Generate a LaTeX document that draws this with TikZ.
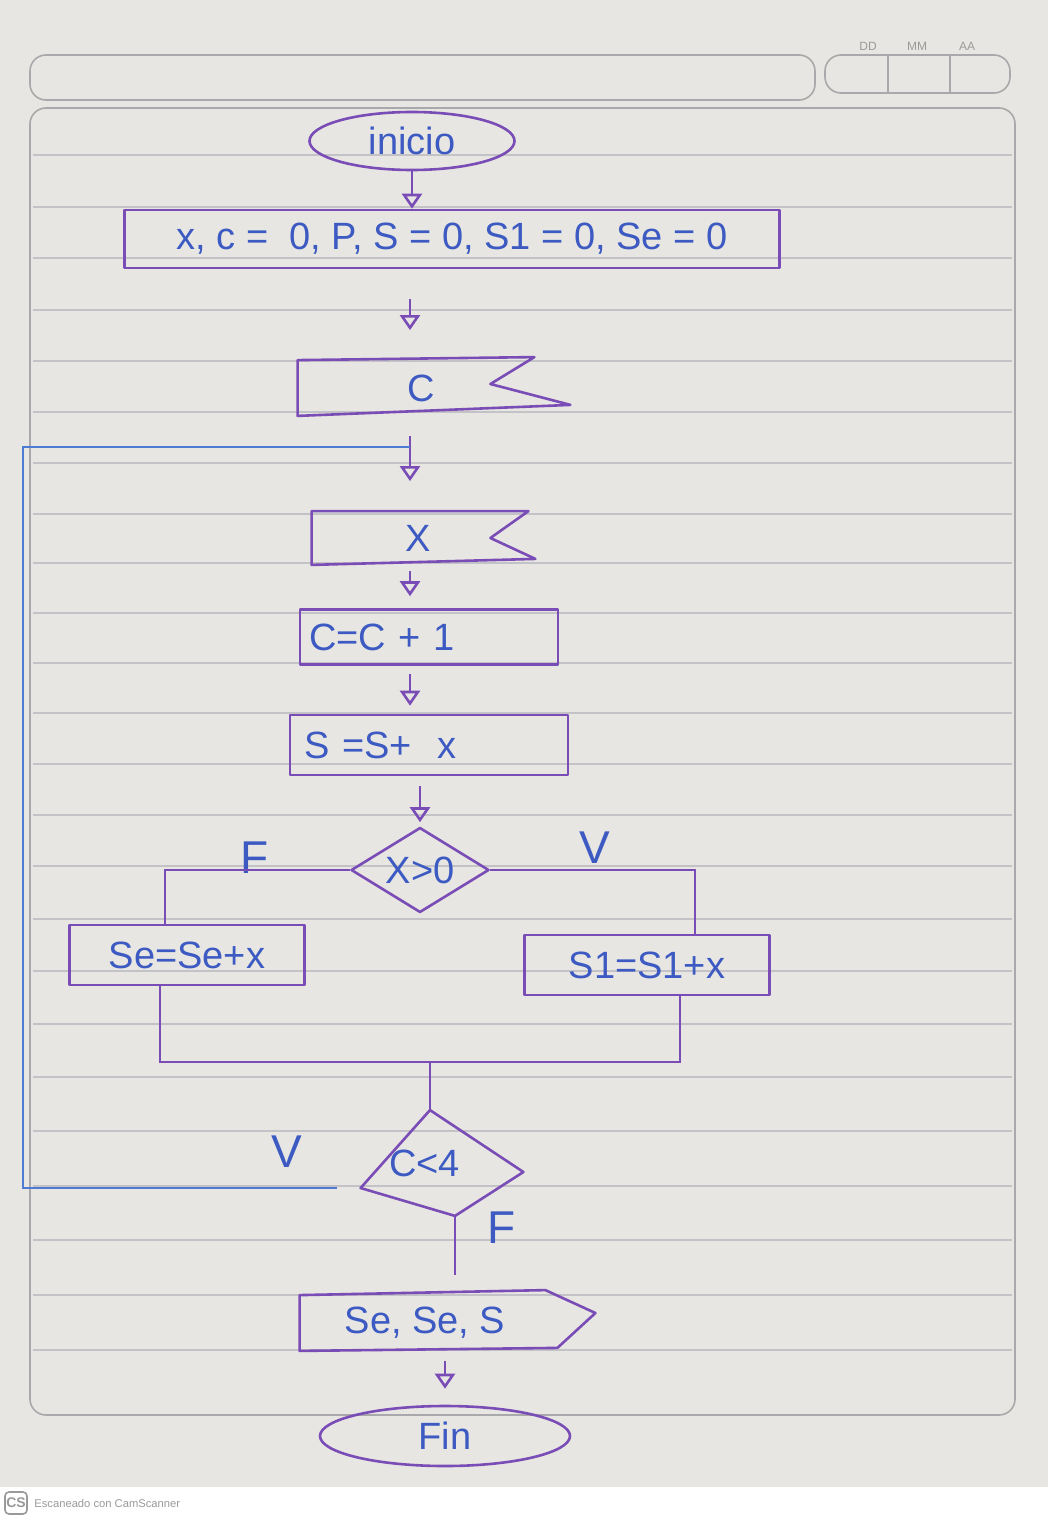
\documentclass[tikz,border=0pt]{standalone}
\usepackage{fontspec}
\setmainfont{Liberation Sans}
\usetikzlibrary{shapes.geometric,arrows.meta,calc}
\definecolor{ink}{HTML}{7A4DB6}
\definecolor{pen}{HTML}{3C5AC2}
\definecolor{loopblue}{HTML}{4D7DD2}
\definecolor{paper}{HTML}{E7E6E3}
\definecolor{ruling}{HTML}{C3C3C7}
\definecolor{frame}{HTML}{A9A8AA}
\definecolor{footgray}{HTML}{9A9A9A}
\begin{document}
\begin{tikzpicture}[x=0.5pt,y=-0.5pt,
  shp/.style={draw=ink,line width=1.3pt,line join=round},
  lbl/.style={text=pen,font=\fontsize{19}{22}\selectfont},
  biglbl/.style={text=pen,font=\fontsize{23}{26}\selectfont},
  procbox/.style={shp,lbl,rectangle,inner sep=0pt},
  ghost/.style={lbl,rectangle,inner sep=0pt},
  term/.style={shp,lbl,ellipse,inner sep=0pt},
  decis/.style={shp,lbl,diamond,inner sep=0pt,aspect=1.6},
  conn/.style={draw=ink,line width=1.3pt},
  arr/.style={conn,-{Triangle[open,length=7.5pt,width=10pt]}},
  loopline/.style={draw=loopblue,line width=1.1pt},
  paperframe/.style={draw=frame,line width=0.8pt,rounded corners=8pt},
  tinytxt/.style={text=footgray,font=\fontsize{6}{7}\selectfont,inner sep=0pt},
]
\useasboundingbox (0,0) rectangle (1048,1520);
% paper
\fill[paper] (0,0) rectangle (1048,1487);
\fill[white] (0,1487) rectangle (1048,1520);
\foreach \yy in {155,207,258,310,361,412,463,514,563,613,663,713,764,815,866,919,971,1024,1077,1131,1186,1240,1295,1350}
  \draw[ruling,line width=0.6pt] (33,\yy) -- (1012,\yy);
\draw[paperframe] (30,108) rectangle (1015,1415);
\draw[paperframe] (30,55) rectangle (815,100);
\draw[paperframe] (825,55) rectangle (1010,93);
\draw[frame,line width=0.8pt] (888,55) -- (888,93);
\draw[frame,line width=0.8pt] (950,55) -- (950,93);
\node[tinytxt] (dd) at (868,46) {DD};
\node[tinytxt] (mm) at (917,46) {MM};
\node[tinytxt] (aa) at (967,46) {AA};
% footer
\node[draw=footgray,rounded corners=2pt,line width=0.8pt,minimum width=11pt,minimum height=11pt,inner sep=0pt,text=footgray,font=\fontsize{7}{8}\selectfont\bfseries] (cslogo) at (16,1503) {CS};
\node[tinytxt,anchor=west,font=\fontsize{5.6}{7}\selectfont] (camsc) at (34,1503) {Escaneado con CamScanner};

% flowchart nodes
\node[term,minimum width=102.5pt,minimum height=29pt] (inicio) at (412,141) {inicio};
\node[procbox,minimum width=327.5pt,minimum height=29pt] (init) at (452,239) {x, c =\ \ 0, P, S = 0, S1 = 0, Se = 0};
\node[ghost,minimum width=123pt,minimum height=27.5pt] (cin) at (421,388) {C};
\node[ghost,minimum width=106pt,minimum height=26.5pt] (xin) at (418,538) {X};
\node[procbox,minimum width=129pt,minimum height=27.5pt,text width=120pt,align=left] (cc) at (429,637) {C=C + 1};
\node[procbox,minimum width=139pt,minimum height=30pt,text width=125pt,align=left] (ss) at (429,745) {S =S+\ \ x};
\node[decis,minimum width=69pt,minimum height=42.5pt] (d1) at (420,870) {X>0};
\node[procbox,minimum width=117.5pt,minimum height=30pt] (se) at (187,955) {Se=Se+x};
\node[procbox,minimum width=122.5pt,minimum height=30pt] (s1) at (647,965) {S1=S1+x};
\node[ghost,minimum width=81pt,minimum height=52.5pt,text width=52pt,align=left] (d2) at (441,1163) {C<4};
\node[ghost,minimum width=125pt,minimum height=27.5pt] (out) at (425,1323) {Se, Se, S};
\node[term,minimum width=125pt,minimum height=30pt] (fin) at (445,1436) {Fin};
% branch labels
\node[biglbl] (lf1) at (255,858) {F};
\node[biglbl] (lv1) at (595,848) {V};
\node[biglbl] (lv2) at (287,1152) {V};
\node[biglbl] (lf2) at (502,1228) {F};

% outlines of non-rectangular shapes
\draw[shp] (cin.north west) -- ($(cin.north east)+(-10,-3)$) -- ($(cin.east)+(-54,-4)$) -- ($(cin.south east)+(26,-11)$) -- (cin.south west) -- cycle;
\draw[shp] (xin.north west) -- ($(xin.north east)+(4,0)$) -- ($(xin.east)+(-34,0)$) -- ($(xin.south east)+(11,-6)$) -- (xin.south west) -- cycle;
\draw[shp] (out.north west) -- ($(out.north east)+(-5,-5)$) -- ($(out.east)+(45,-10)$) -- ($(out.south east)+(7,-3)$) -- (out.south west) -- cycle;
\draw[shp] ($(d2.north)+(-11,0)$) coordinate (d2t) -- ($(d2.east)+(1,9)$) coordinate (d2r) -- ($(d2.south)+(14,0)$) coordinate (d2b) -- ($(d2.west)+(1,25)$) coordinate (d2l) -- cycle;

% helper coordinates
\coordinate (ax) at (410,0);
\coordinate (j1) at (410,447);
\coordinate (lx) at (23,800);
\coordinate (m) at (430,1062);

% connectors
\draw[arr] (inicio.south) -- (inicio.south |- init.north);
\draw[arr,shorten <=15pt,shorten >=15pt] (init.south -| ax) -- (cin.north -| ax);
\draw[arr,shorten <=10pt,shorten >=15pt] (cin.south -| ax) -- (xin.north -| ax);
\draw[arr,shorten <=3pt,shorten >=6pt] (xin.south -| ax) -- (cc.north -| ax);
\draw[arr,shorten <=4pt,shorten >=4pt] (cc.south -| ax) -- (ss.north -| ax);
\draw[arr,shorten <=5pt,shorten >=2pt] (ss.south -| d1.north) -- (d1.north);
\draw[conn] (d1.west) -| ([xshift=-11pt]se.north);
\draw[conn] (d1.east) -| ([xshift=24pt]s1.north);
\draw[conn] ([xshift=-13.5pt]se.south) |- (m) -| ([xshift=16.5pt]s1.south);
\draw[conn] (m) -- (d2t);
\draw[loopline] ([xshift=-12pt]d2l) -- (d2l -| lx) -- (lx |- j1) -- (j1);
\draw[conn,shorten >=10pt] (d2b) -- (d2b |- out.north);
\draw[arr,shorten <=5pt,shorten >=8pt] (out.south -| fin.north) -- (fin.north);
\end{tikzpicture}
\end{document}
